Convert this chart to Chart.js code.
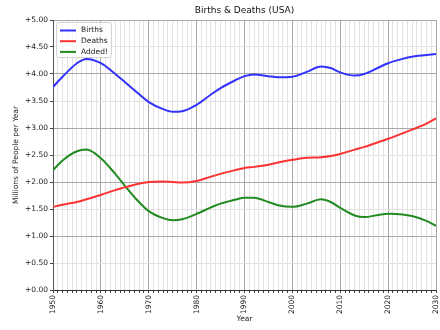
<!DOCTYPE html>
<html>
<head>
<meta charset="utf-8">
<script src="https://cdn.jsdelivr.net/npm/chart.js@4"></script>
<style>
  html, body { margin: 0; padding: 0; background: #fff; }
  #wrap { width: 440px; height: 330px; }
</style>
</head>
<body>
<div id="wrap"><canvas id="grafico" width="440" height="330"></canvas></div>
<script>
// datos (millones de personas por año)
var years  = [1950, 1952, 1955, 1957, 1960, 1963, 1965, 1967, 1970, 1973, 1975, 1977, 1980, 1983, 1985, 1988, 1990,
              1992, 1995, 1997, 2000, 2003, 2006, 2008, 2010, 2013, 2015, 2018, 2020, 2023, 2025, 2028, 2030];
var births = [3.76, 3.95, 4.20, 4.28, 4.20, 4.00, 3.85, 3.70, 3.48, 3.35, 3.30, 3.31, 3.43, 3.62, 3.74, 3.88, 3.96,
              3.99, 3.96, 3.94, 3.95, 4.04, 4.14, 4.11, 4.03, 3.97, 4.00, 4.12, 4.20, 4.28, 4.32, 4.35, 4.37];
var deaths = [1.54, 1.58, 1.63, 1.68, 1.76, 1.85, 1.90, 1.95, 2.00, 2.01, 2.00, 1.99, 2.02, 2.10, 2.15, 2.22, 2.26,
              2.28, 2.32, 2.36, 2.41, 2.45, 2.46, 2.48, 2.52, 2.60, 2.65, 2.74, 2.80, 2.90, 2.97, 3.08, 3.18];
var added  = [2.22, 2.40, 2.57, 2.60, 2.44, 2.15, 1.93, 1.72, 1.46, 1.33, 1.29, 1.31, 1.41, 1.53, 1.60, 1.67, 1.71,
              1.71, 1.63, 1.57, 1.54, 1.60, 1.68, 1.63, 1.52, 1.38, 1.35, 1.39, 1.41, 1.40, 1.37, 1.28, 1.19];
var seriesNames = ["Births", "Deaths", "Added!"];
var titulo = "Births & Deaths (USA)";

var FUENTE = "'DejaVu Sans', sans-serif";

function puntos(valores) {
    return years.map(function (y, i) { return { x: y, y: valores[i] }; });
}

// leyenda dentro del area (con marco) y titulo
var leyendaBox = {
    id: "leyendaBox",
    afterDraw: function (chart) {
        var ctx = chart.ctx;
        var area = chart.chartArea;
        var x0 = area.left + 3, y0 = area.top + 2;
        ctx.save();
        ctx.fillStyle = "rgba(255,255,255,0.8)";
        ctx.strokeStyle = "#d4d4d4";
        ctx.lineWidth = 1;
        ctx.beginPath();
        ctx.roundRect(x0 + 0.5, y0 + 0.5, 55, 35, 2);
        ctx.fill();
        ctx.stroke();
        ctx.font = "7.5px " + FUENTE;
        ctx.textBaseline = "middle";
        chart.data.datasets.forEach(function (ds, i) {
            var yy = y0 + 8.5 + i * 10.7;
            ctx.strokeStyle = ds.borderColor;
            ctx.lineWidth = 2;
            ctx.beginPath();
            ctx.moveTo(x0 + 4, yy);
            ctx.lineTo(x0 + 20, yy);
            ctx.stroke();
            ctx.fillStyle = "#222";
            ctx.fillText(ds.label, x0 + 25, yy);
        });
        ctx.font = "9px " + FUENTE;
        ctx.textAlign = "center";
        ctx.fillStyle = "#111";
        ctx.fillText(titulo, (area.left + area.right) / 2, 11);
        ctx.restore();
    }
};

function cargaGrafico() {
    var colores = ["rgb(50,50,255)", "rgb(255,50,50)", "rgb(34,139,34)"];
    var datos = {
        datasets: [births, deaths, added].map(function (v, i) {
            return {
                label: seriesNames[i],
                data: puntos(v),
                borderColor: colores[i],
                backgroundColor: colores[i],
                borderWidth: 2,
                pointRadius: 0,
                cubicInterpolationMode: "monotone",
                fill: false
            };
        })
    };

    var config = {
        type: "line",
        data: datos,
        options: {
            responsive: false,
            animation: false,
            layout: { padding: { top: 20, right: 4, left: 0, bottom: 0 } },
            plugins: {
                legend: { display: false },
                title: { display: false },
                tooltip: { enabled: false }
            },
            scales: {
                x: {
                    type: "linear",
                    min: 1950,
                    max: 2030,
                    afterFit: function (s) {
                        s.height = 40;
                        s.paddingLeft = 0;
                        s.paddingRight = 0;
                    },
                    ticks: {
                        stepSize: 1,
                        autoSkip: false,
                        maxRotation: 90,
                        minRotation: 90,
                        padding: 2,
                        color: "#222",
                        font: { family: FUENTE, size: 7.5 },
                        callback: function (v) { return v % 10 === 0 ? String(v) : ""; }
                    },
                    grid: {
                        color: function (c) { return c.tick && c.tick.value % 10 === 0 ? "#a8a8a8" : "#e2e2e2"; },
                        tickColor: "#444",
                        tickLength: 3
                    },
                    border: { color: "#333", width: 1 },
                    title: {
                        display: true,
                        text: "Year",
                        color: "#222",
                        font: { family: FUENTE, size: 7.5 },
                        padding: { top: 0, bottom: 6 }
                    }
                },
                y: {
                    min: 0,
                    max: 5,
                    afterFit: function (s) {
                        s.width = 53;
                        s.paddingTop = 0;
                        s.paddingBottom = 0;
                    },
                    ticks: {
                        stepSize: 0.5,
                        padding: 2,
                        color: "#222",
                        font: { family: FUENTE, size: 7.5 },
                        callback: function (v) { return "+" + v.toFixed(2); }
                    },
                    grid: {
                        color: function (c) { return c.tick && c.tick.value % 1 === 0 ? "#a8a8a8" : "#e2e2e2"; },
                        tickColor: "#444",
                        tickLength: 3
                    },
                    border: { color: "#555", width: 1 },
                    title: {
                        display: true,
                        text: "Millions of People per Year",
                        color: "#222",
                        font: { family: FUENTE, size: 7.5 },
                        padding: { top: 12, bottom: 0 }
                    }
                }
            }
        },
        plugins: [leyendaBox]
    };

    new Chart(document.getElementById("grafico").getContext("2d"), config);
}

cargaGrafico();
</script>
</body>
</html>
